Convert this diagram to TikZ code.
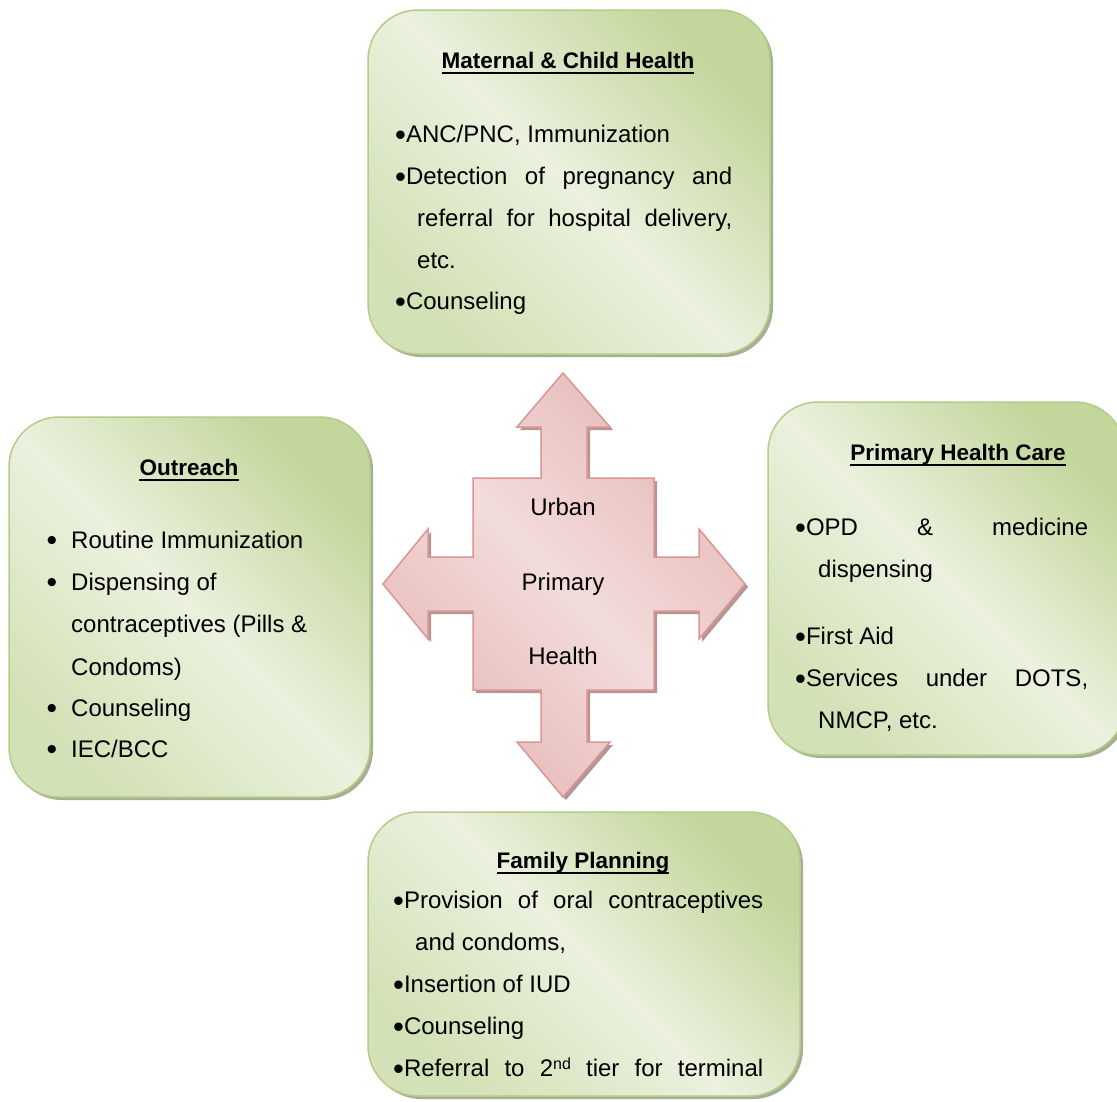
\documentclass[tikz,border=0pt]{standalone}
\usepackage{fontspec}
\setmainfont{Liberation Sans}
\usetikzlibrary{shadows}

\definecolor{gtr}{HTML}{C3D69B}
\definecolor{gmid}{HTML}{EBF1DE}
\definecolor{gbl}{HTML}{D3E1B6}
\definecolor{boxline}{HTML}{B5CC89}
\definecolor{boxshadow}{HTML}{A5AF93}
\definecolor{ptr}{HTML}{E6B9B8}
\definecolor{pmid}{HTML}{F2DCDB}
\definecolor{pline}{HTML}{D99694}
\definecolor{pshadow}{HTML}{B79595}

% larger bullet used at the start of list lines
\newcommand{\bul}{\raisebox{-3pt}{\fontsize{31}{31}\selectfont •}}

\begin{document}
\begin{tikzpicture}[x=1pt,y=-1pt,
  panel/.style={rectangle, rounded corners=50pt, draw=boxline, line width=1.5pt,
    top color=gtr, bottom color=gbl, middle color=gmid, shading angle=-45,
    drop shadow={shadow xshift=3pt, shadow yshift=-3pt, fill=boxshadow, opacity=1},
    inner sep=0pt},
  cross/.style={draw=pline, line width=1.5pt, line join=miter,
    top color=ptr, bottom color=ptr, middle color=pmid, shading angle=-45,
    drop shadow={shadow xshift=3pt, shadow yshift=-3pt, fill=pshadow, opacity=1}},
  head/.style={inner sep=0pt, anchor=base, font=\fontsize{22.5}{24}\selectfont\bfseries},
  txt/.style={inner sep=0pt, anchor=base west, font=\fontsize{24}{28}\selectfont},
  ctxt/.style={inner sep=0pt, anchor=base, font=\fontsize{24}{28}\selectfont},
  dot/.style={inner sep=0pt, anchor=base, font=\fontsize{30}{30}\selectfont},
  uline/.style={line width=1.8pt}]

\useasboundingbox (0,0) rectangle (1117,1101);
\fill[white] (0,0) rectangle (1117,1101);

% the four service panels
\node[panel, minimum width=402pt, minimum height=344pt] (mchbox) at (569,182) {};
\node[panel, minimum width=361pt, minimum height=380pt] (outbox) at (189.5,607) {};
\node[panel, minimum width=357pt, minimum height=353pt] (phcbox) at (946.5,578.5) {};
\node[panel, minimum width=432pt, minimum height=284pt] (fpbox) at (584,954) {};

% central four-way arrow
\draw[cross] (563,373) -- (610,427) -- (587,427) -- (587,478) -- (654,478)
  -- (654,557) -- (699,557) -- (699,529) -- (745,584) -- (699,639) -- (699,611)
  -- (654,611) -- (654,690) -- (587,690) -- (587,742) -- (610,742) -- (563,797)
  -- (517,742) -- (541,742) -- (541,690) -- (473,690) -- (473,611) -- (428,611)
  -- (428,639) -- (383,584) -- (428,529) -- (428,557) -- (473,557) -- (473,478)
  -- (541,478) -- (541,427) -- (517,427) -- cycle;
\node[ctxt] (urban) at (563,515) {Urban};
\node[ctxt] (primary) at (563,590) {Primary};
\node[ctxt] (health) at (563,664) {Health};

% Maternal & Child Health
\node[head] (mchh) at (568,68) {Maternal \& Child Health};
\draw[uline] ([yshift=-5pt]mchh.base west) -- ([yshift=-5pt]mchh.base east);
\node[txt] (mch1) at (395,142) {\bul ANC/PNC, Immunization};
\node[txt] (mch2) at (395,184) {\makebox[337pt][s]{\bul Detection of pregnancy and}};
\node[txt] (mch3) at (417,226) {\makebox[315pt][s]{referral for hospital delivery,}};
\node[txt] (mch4) at (417,268) {etc.};
\node[txt] (mch5) at (395,309) {\bul Counseling};

% Outreach
\node[head] (outh) at (189,475) {Outreach};
\draw[uline] ([yshift=-5pt]outh.base west) -- ([yshift=-5pt]outh.base east);
\node[dot] (od1) at (52,550) {•};
\node[txt] (out1) at (71,548) {Routine Immunization};
\node[dot] (od2) at (52,592) {•};
\node[txt] (out2) at (71,590) {Dispensing of};
\node[txt] (out3) at (71,632) {contraceptives (Pills \&};
\node[txt] (out4) at (71,675) {Condoms)};
\node[dot] (od3) at (52,718) {•};
\node[txt] (out5) at (71,716) {Counseling};
\node[dot] (od4) at (52,759) {•};
\node[txt] (out6) at (71,757) {IEC/BCC};

% Primary Health Care
\node[head] (phch) at (958,460) {Primary Health Care};
\draw[uline] ([yshift=-5pt]phch.base west) -- ([yshift=-5pt]phch.base east);
\node[txt] (phc1) at (795,535) {\makebox[293pt][s]{\bul OPD \& medicine}};
\node[txt] (phc2) at (818,577) {dispensing};
\node[txt] (phc3) at (795,644) {\bul First Aid};
\node[txt] (phc4) at (795,686) {\makebox[293pt][s]{\bul Services under DOTS,}};
\node[txt] (phc5) at (818,728) {NMCP, etc.};

% Family Planning
\node[head] (fph) at (583,868) {Family Planning};
\draw[uline] ([yshift=-5pt]fph.base west) -- ([yshift=-5pt]fph.base east);
\node[txt] (fp1) at (393,908) {\makebox[370pt][s]{\bul Provision of oral contraceptives}};
\node[txt] (fp2) at (415,950) {and condoms,};
\node[txt] (fp3) at (393,992) {\bul Insertion of IUD};
\node[txt] (fp4) at (393,1034) {\bul Counseling};
\node[txt] (fp5) at (393,1076) {\makebox[370pt][s]{\bul Referral to 2{\fontsize{16}{16}\selectfont\raisebox{7pt}{nd}} tier for terminal}};
\end{tikzpicture}
\end{document}
